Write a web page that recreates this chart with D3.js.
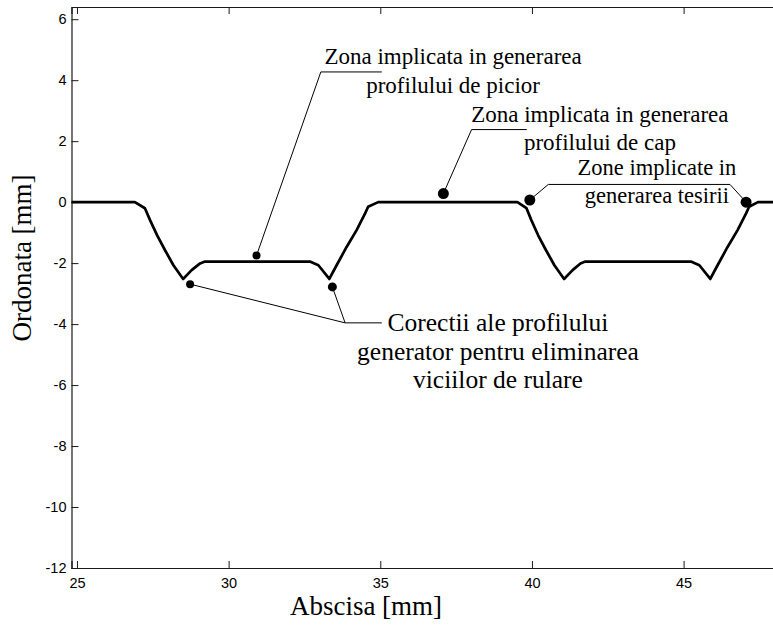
<!DOCTYPE html>
<html>
<head>
<meta charset="utf-8">
<script src="https://cdn.jsdelivr.net/npm/d3@7"></script>
<style>
  html, body { margin: 0; padding: 0; background: #fff; }
  svg { display: block; }
</style>
</head>
<body>
<svg id="chart" width="773" height="626"></svg>
<script>
// Axis ticks
const xTicks = [25, 30, 35, 40, 45];
const yTicks = [6, 4, 2, 0, -2, -4, -6, -8, -10, -12];

// Generating profile (abscissa / ordinate, mm)
const profileX = [24.8, 26.91, 27.24, 27.41, 27.64, 27.90, 28.18, 28.50, 28.78, 29.06, 29.22,
                  32.68, 32.96, 33.32, 33.56, 33.89, 34.22, 34.50, 34.60, 34.93,
                  39.52, 39.82, 39.98, 40.20, 40.46, 40.74, 41.06, 41.34, 41.60, 41.76,
                  45.24, 45.52, 45.88, 46.12, 46.45, 46.78, 47.06, 47.16, 47.45, 48.2];
const profileY = [0, 0, -0.2, -0.59, -1.08, -1.57, -2.07, -2.52, -2.23, -2.01, -1.95,
                  -1.95, -2.07, -2.52, -2.07, -1.47, -0.92, -0.37, -0.15, 0,
                  0, -0.2, -0.59, -1.08, -1.57, -2.07, -2.52, -2.23, -2.01, -1.95,
                  -1.95, -2.07, -2.52, -2.07, -1.47, -0.92, -0.37, -0.15, 0, 0];

// Marked points: root zone and rolling-defect corrections
const footPointsX = [30.92, 28.73, 33.42];
const footPointsY = [-1.75, -2.69, -2.78];
// Marked points: tip zone and chamfer zones
const headPointsX = [37.08, 39.93, 47.06];
const headPointsY = [0.28, 0.07, 0.0];

// Callout texts
const labelFoot = ["Zona implicata in generarea", "profilului de picior"];
const labelHead = ["Zona implicata in generarea", "profilului de cap"];
const labelChamfer = ["Zone implicate in", "generarea tesirii"];
const labelCorr = ["Corectii ale profilului", "generator pentru eliminarea", "viciilor de rulare"];

const xTitle = "Abscisa [mm]";
const yTitle = "Ordonata [mm]";

const SERIF = '"Liberation Serif", "Times New Roman", Times, serif';
const SANS = '"Liberation Sans", Arial, Helvetica, sans-serif';

const svg = d3.select("#chart");
const plot = { left: 71.5, top: 7, bottom: 568, right: 774.6 };

const x = d3.scaleLinear().domain([24.82, 48]).range([plot.left, plot.right]);
const y = d3.scaleLinear().domain([-12, 6.4]).range([plot.bottom, plot.top]);

svg.append("defs").append("clipPath").attr("id", "plotclip")
  .append("rect").attr("x", plot.left).attr("y", plot.top)
  .attr("width", plot.right - plot.left).attr("height", plot.bottom - plot.top);

// Axes: ticks point inward, labels outside
const axisColor = "#1a1a1a";
const bottomAxis = d3.axisBottom(x).tickValues(xTicks).tickSize(-7).tickPadding(10).tickFormat(d3.format("d"));
const topAxis = d3.axisTop(x).tickValues(xTicks).tickSize(-7).tickFormat("");
const leftAxis = d3.axisLeft(y).tickValues(yTicks).tickSize(-7).tickPadding(5).tickFormat(d => d < 0 ? "-" + Math.abs(d) : String(d));

function styleAxis(g) {
  g.attr("font-family", null).attr("font-size", null);
  g.select(".domain").attr("stroke", axisColor).attr("stroke-width", 1.2);
  g.selectAll(".tick line").attr("stroke", axisColor).attr("stroke-width", 1);
  g.selectAll(".tick text").style("font-family", SANS).style("font-size", "14.5px").attr("fill", "#000");
}

svg.append("g").attr("transform", `translate(0,${plot.bottom})`).call(bottomAxis).call(styleAxis);
svg.append("g").attr("transform", `translate(0,${plot.top})`).call(topAxis).call(styleAxis);
svg.append("g").attr("transform", `translate(${plot.left},0)`).call(leftAxis).call(styleAxis);

// Profile curve
const profile = profileX.map((v, i) => [v, profileY[i]]);
svg.append("path")
  .datum(profile)
  .attr("clip-path", "url(#plotclip)")
  .attr("fill", "none")
  .attr("stroke", "#000")
  .attr("stroke-width", 2.7)
  .attr("stroke-linejoin", "round")
  .attr("d", d3.line().x(d => x(d[0])).y(d => y(d[1])));

// Callout leader lines (data coordinates)
const leader = d3.line().x(d => x(d[0])).y(d => y(d[1]));
const leaders = [
  [[35.05, 4.27], [33.04, 4.27], [footPointsX[0], footPointsY[0]]],
  [[39.83, 2.38], [38.01, 2.38], [headPointsX[0], headPointsY[0]]],
  [[headPointsX[1], headPointsY[1]], [40.54, 0.58], [46.53, 0.58], [headPointsX[2], headPointsY[2]]],
  [[footPointsX[1], footPointsY[1]], [33.84, -3.96], [35.05, -3.96]],
  [[footPointsX[2], footPointsY[2]], [33.84, -3.96]]
];
svg.append("g").selectAll("path").data(leaders).join("path")
  .attr("fill", "none").attr("stroke", "#000").attr("stroke-width", 1)
  .attr("d", leader);

// Marked points
svg.append("g").selectAll("circle").data(footPointsX.map((v, i) => [v, footPointsY[i]])).join("circle")
  .attr("cx", d => x(d[0])).attr("cy", d => y(d[1])).attr("r", (d, i) => i === 2 ? 4.5 : 4).attr("fill", "#000");
svg.append("g").selectAll("circle").data(headPointsX.map((v, i) => [v, headPointsY[i]])).join("circle")
  .attr("cx", d => x(d[0])).attr("cy", d => y(d[1])).attr("r", 5.5).attr("fill", "#000");

// Callout texts
function callout(lines, cx, baselineY, step, size) {
  const t = svg.append("text")
    .style("font-family", SERIF).style("font-size", size + "px")
    .attr("fill", "#000").attr("text-anchor", "middle");
  lines.forEach((s, i) => {
    t.append("tspan").style("font-family", SERIF)
      .attr("x", x(cx)).attr("y", y(baselineY) + i * step).text(s);
  });
}
callout(labelFoot, 37.40, 4.53, 28.5, 23);
callout(labelHead, 42.24, 2.63, 28, 23);
callout(labelChamfer, 44.12, 0.89, 28, 22.5);
callout(labelCorr, 38.88, -4.23, 28.5, 25.5);

// Axis titles
svg.append("text").style("font-family", SERIF).style("font-size", "27px")
  .attr("fill", "#000").attr("text-anchor", "middle")
  .attr("x", 366).attr("y", 615).text(xTitle);
svg.append("text").style("font-family", SERIF).style("font-size", "27px")
  .attr("fill", "#000").attr("text-anchor", "middle")
  .attr("transform", "translate(31,258) rotate(-90)").text(yTitle);
</script>
</body>
</html>
